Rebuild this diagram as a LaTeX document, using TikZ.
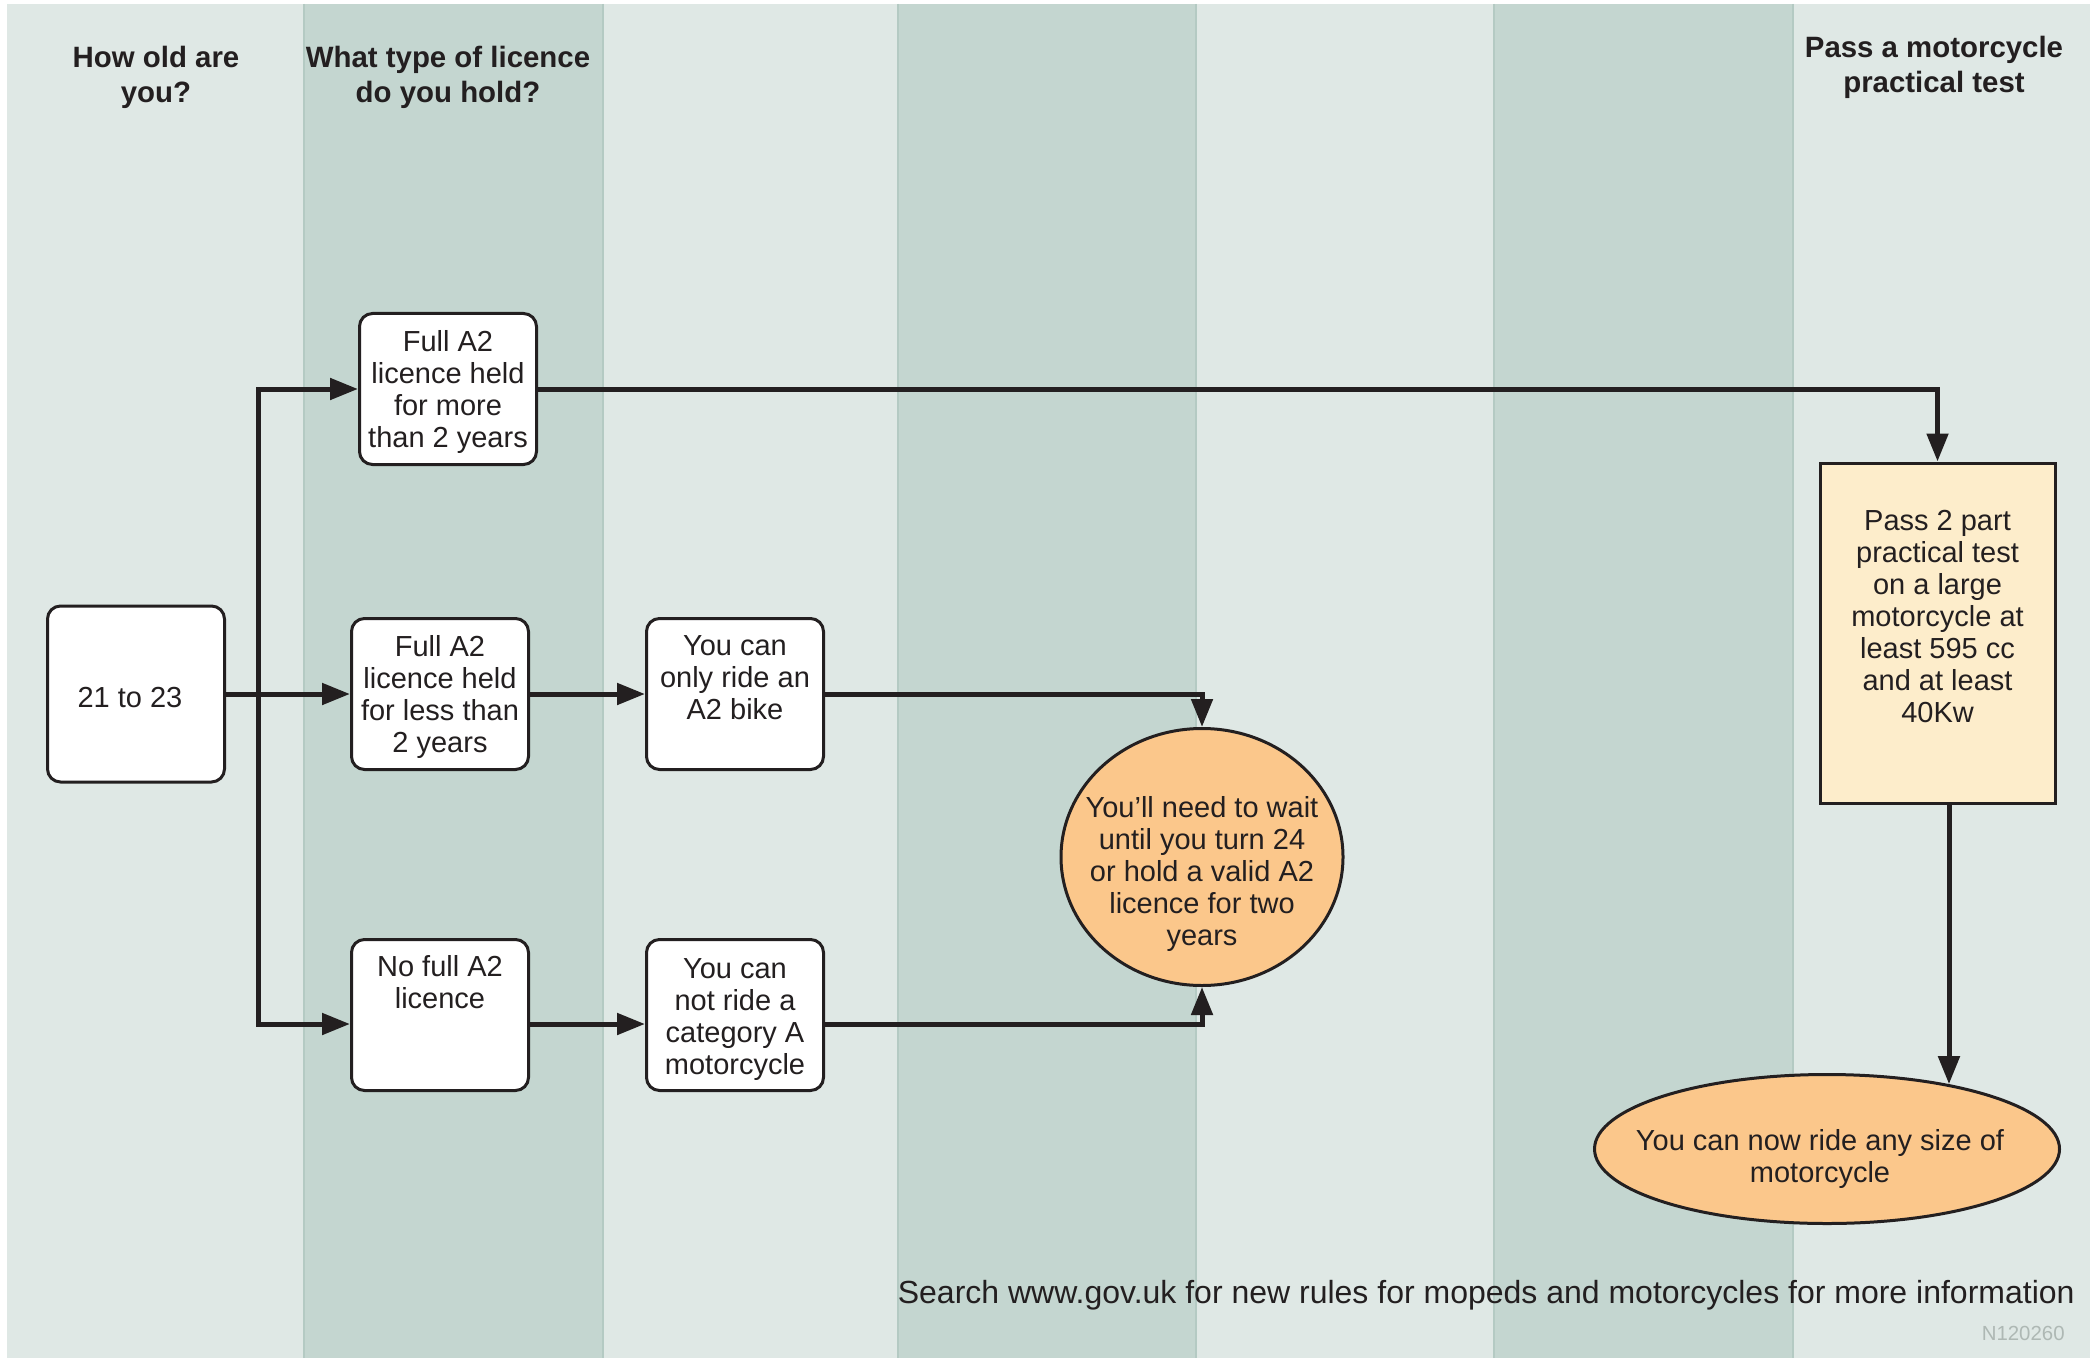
\documentclass[tikz,border=0pt]{standalone}
\usepackage{fontspec}
\setmainfont{Liberation Sans}
\usetikzlibrary{arrows.meta,shapes.geometric}
\definecolor{lightstripe}{HTML}{DFE8E5}
\definecolor{darkstripe}{HTML}{C4D6D0}
\definecolor{stripeedge}{HTML}{B4CAC3}
\definecolor{ink}{HTML}{231F20}
\definecolor{orangefill}{HTML}{FBC78B}
\definecolor{creamfill}{HTML}{FDEDCB}
\definecolor{codegrey}{HTML}{AEB8B4}
\newcommand{\dgbody}{\fontsize{14.5}{16}\selectfont}
\newcommand{\dghead}{\fontsize{14.7}{17.5}\selectfont\bfseries}
\newcommand{\dgfoot}{\fontsize{16}{18}\selectfont}
\newcommand{\dgtop}{\rule{0pt}{14pt}}
\begin{document}
\begin{tikzpicture}[x=0.5pt,y=-0.5pt,
  box/.style={draw=ink, line width=1.5pt, fill=white, rounded corners=6.5pt,
    minimum width=88.5pt, minimum height=75.5pt, align=center, inner sep=0pt,
    font=\dgbody, text=ink},
  passbox/.style={draw=ink, line width=1.5pt, fill=creamfill,
    minimum width=117.5pt, minimum height=170pt, align=center, inner sep=0pt,
    font=\dgbody, text=ink},
  endell/.style={draw=ink, line width=1.5pt, fill=orangefill, ellipse,
    inner sep=-60pt, align=center, font=\dgbody, text=ink},
  header/.style={align=center, font=\dghead, text=ink, inner sep=0pt},
  arr/.style={draw=ink, line width=2.5pt, -{Triangle[length=14pt,width=10.5pt]}},
]
\useasboundingbox (0,0) rectangle (2096,1358);
\fill[white] (0,0) rectangle (2096,1358);
% lanes
\fill[lightstripe] (7,4) rectangle (2090,1358);
\foreach \a/\b in {304/603, 898/1196, 1494/1793}
  \fill[darkstripe] (\a,4) rectangle (\b,1358);
\foreach \a in {304,603,898,1196,1494,1793}
  \draw[stripeedge, line width=1pt] (\a,4) -- (\a,1358);

% headers
\node[header] (h1) at (156,77) {How old are\\you?};
\node[header] (h2) at (448,77) {What type of licence\\do you hold?};
\node[header] (h3) at (1934,67) {Pass a motorcycle\\practical test};

% nodes
\node[box, minimum height=88pt] (age) at (136,694) {\dgtop 21 to 23\hspace*{6pt}};
\node[box] (more) at (448,389) {\dgtop Full A2\\licence held\\for more\\than 2 years};
\node[box] (less) at (440,694) {\dgtop Full A2\\licence held\\for less than\\2 years};
\node[box] (nofull) at (440,1015) {\dgtop No full A2\\licence\\\strut\\\strut};
\node[box] (only) at (735,694) {\dgtop You can\\only ride an\\A2 bike\\\strut};
\node[box] (notride) at (735,1015) {\dgtop You can\\not ride a\\category A\\motorcycle};
\node[endell, minimum width=141pt, minimum height=128.5pt] (wait) at (1202,857)
  {\strut\\You’ll need to wait\\until you turn 24\\or hold a valid A2\\licence for two\\years};
\node[passbox] (pass) at (1937.5,633)
  {\dgtop Pass 2 part\\practical test\\on a large\\motorcycle at\\least 595 cc\\and at least\\40Kw\\\strut};
\node[endell, minimum width=232.5pt, minimum height=74.5pt] (final) at (1827,1149)
  {\rule{0pt}{20pt}You can now ride any size of\hspace*{7pt}\\motorcycle\hspace*{7pt}};

% footer
\node[anchor=east, inner sep=0pt, font=\dgfoot, text=ink] (foot) at (2075,1295)
  {Search www.gov.uk for new rules for mopeds and motorcycles for more information};
\node[anchor=east, inner sep=0pt, font=\fontsize{10.2}{12}\selectfont, text=codegrey] (code) at (2065,1333) {N120260};

% connectors
\coordinate (j) at (258,694);
\coordinate (r3) at (258,1024);
\draw[arr] (age.east) -- (less.west);
\draw[arr] (age.east) -- (j) |- (more.west);
\draw[arr] (age.east) -- (j) |- (nofull.west |- r3);
\draw[arr] (more.east) -| (pass.north);
\draw[arr] (less.east) -- (only.west);
\draw[arr] (only.east) -| (wait.north);
\draw[arr] (nofull.east |- r3) -- (notride.west |- r3);
\draw[arr] (notride.east |- r3) -| (wait.south);
\draw[arr] (pass.south -| final.28) -- (final.28);
\end{tikzpicture}
\end{document}
